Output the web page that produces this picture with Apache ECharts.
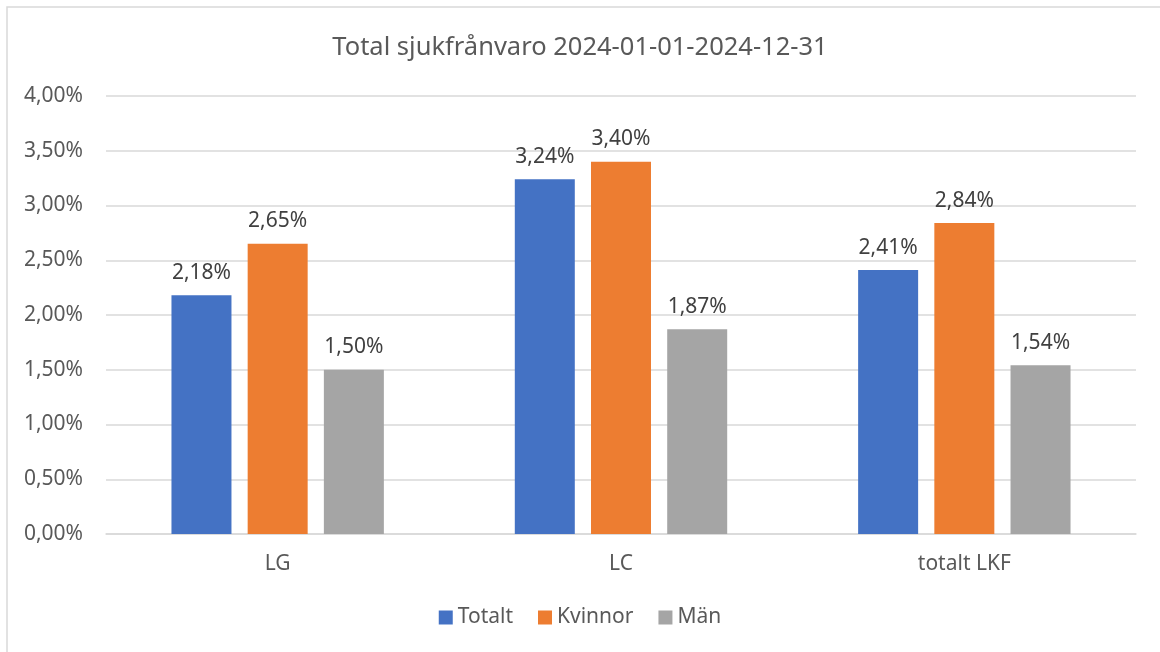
<!DOCTYPE html>
<html>
<head>
<meta charset="utf-8">
<script src="https://cdn.jsdelivr.net/npm/echarts@6/dist/echarts.min.js"></script>
<style>
html,body{margin:0;padding:0;background:#fff;}
#main{width:1160px;height:652px;}
</style>
</head>
<body>
<div id="main"></div>
<script>
var categories = ['LG', 'LC', 'totalt LKF'];
var totalt = [2.18, 3.24, 2.41];
var kvinnor = [2.65, 3.40, 2.84];
var man = [1.50, 1.87, 1.54];
var seriesNames = ['Totalt', 'Kvinnor', 'Män'];
var titleText = 'Total sjukfrånvaro 2024-01-01-2024-12-31';

function pct(v) { return v.toFixed(2).replace('.', ',') + '%'; }

var FONT = '"Noto Sans", sans-serif';
var colors = ['#4472C4', '#ED7D31', '#A5A5A5'];
var chart = echarts.init(document.getElementById('main'));

function mkSeries(name, data, color) {
  return {
    name: name,
    type: 'bar',
    data: data,
    barWidth: 60,
    barGap: '27%',
    itemStyle: { color: color },
    label: {
      show: true,
      position: 'top',
      distance: 12,
      formatter: function (p) { return pct(p.value); },
      color: '#404040',
      fontFamily: FONT,
      fontSize: 21
    }
  };
}

chart.setOption({
  animation: false,
  color: colors,
  title: {
    text: titleText,
    left: 'center',
    top: 30,
    textStyle: { color: '#595959', fontFamily: FONT, fontSize: 25.5, fontWeight: 'normal' }
  },
  graphic: [{
    type: 'rect',
    shape: { x: 7, y: 7, width: 1200, height: 700 },
    style: { fill: 'none', stroke: '#D9D9D9', lineWidth: 1.5 },
    silent: true
  }],
  legend: {
    data: seriesNames,
    bottom: 19,
    left: 'center',
    icon: 'rect',
    itemWidth: 14,
    itemHeight: 14,
    itemGap: 25,
    textStyle: { color: '#595959', fontFamily: FONT, fontSize: 21 }
  },
  grid: { left: 106, right: 24, top: 96, bottom: 118, containLabel: false },
  xAxis: {
    type: 'category',
    data: categories,
    axisLine: { lineStyle: { color: '#D9D9D9', width: 1.5 } },
    axisTick: { show: false },
    axisLabel: { color: '#595959', fontFamily: FONT, fontSize: 21, margin: 20 }
  },
  yAxis: {
    type: 'value',
    min: 0,
    max: 4,
    interval: 0.5,
    axisLine: { show: false },
    axisTick: { show: false },
    splitLine: { lineStyle: { color: '#D9D9D9', width: 1.5 } },
    axisLabel: {
      color: '#595959', fontFamily: FONT, fontSize: 21, margin: 23,
      formatter: function (v) { return pct(v); }
    }
  },
  series: [
    mkSeries(seriesNames[0], totalt, colors[0]),
    mkSeries(seriesNames[1], kvinnor, colors[1]),
    mkSeries(seriesNames[2], man, colors[2])
  ]
});
</script>
</body>
</html>
